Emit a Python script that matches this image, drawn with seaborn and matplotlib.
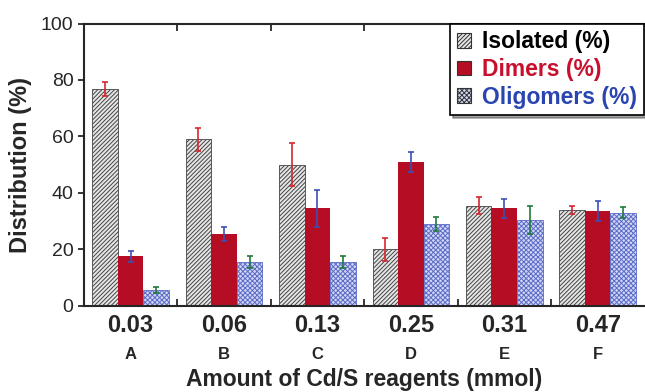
import pandas as pd
import numpy as np
import seaborn as sns
import matplotlib.pyplot as plt
import matplotlib.ticker as mticker
from matplotlib.patches import Patch

# Daten
amounts = ["0.03", "0.06", "0.13", "0.25", "0.31", "0.47"]
letters = ["A", "B", "C", "D", "E", "F"]
series = ["Isolated (%)", "Dimers (%)", "Oligomers (%)"]
isolated = [76.7, 59.0, 50.0, 20.0, 35.5, 34.0]
isolated_err = [2.5, 4.0, 7.5, 4.0, 3.0, 1.5]
dimers = [17.5, 25.5, 34.5, 51.0, 34.5, 33.5]
dimers_err = [2.0, 2.5, 6.5, 3.5, 3.5, 3.5]
oligomers = [5.5, 15.5, 15.5, 29.0, 30.5, 33.0]
oligomers_err = [1.0, 2.0, 2.0, 2.5, 5.0, 2.0]

df = pd.DataFrame({
    "amount": amounts * 3,
    "series": np.repeat(series, len(amounts)),
    "value": isolated + dimers + oligomers,
})
errs = [isolated_err, dimers_err, oligomers_err]

face = ["#e6e6e6", "#b50d24", "#d2d6f4"]
hatch = ["////////", None, "xxxxxxx"]
hatch_col = ["#444444", "#b50d24", "#5a6cc8"]
err_col = ["#d9252e", "#3b4fb5", "#1e7a3a"]
text_col = ["black", "#c8102e", "#2a45b0"]

sns.set_style("ticks")
plt.rcParams["font.family"] = ["Liberation Sans", "DejaVu Sans"]
plt.rcParams["hatch.linewidth"] = 0.7

fig, ax = plt.subplots(figsize=(6.45, 3.92), dpi=100)
fig.subplots_adjust(left=0.13, right=0.999, top=0.94, bottom=0.22)

sns.barplot(data=df, x="amount", y="value", hue="series", order=amounts,
            hue_order=series, errorbar=None, width=0.82, ax=ax, legend=False)

bar_conts = list(ax.containers)
for i, cont in enumerate(bar_conts):
    xs = []
    for bar in cont:
        bar.set_facecolor(face[i])
        bar.set_edgecolor(hatch_col[i] if hatch[i] else face[i])
        bar.set_linewidth(0.6 if hatch[i] else 0)
        if hatch[i]:
            bar.set_hatch(hatch[i])
        xs.append(bar.get_x() + bar.get_width() / 2)
    vals = [b.get_height() for b in cont]
    ax.errorbar(xs, vals, yerr=errs[i], fmt="none", ecolor=err_col[i],
                elinewidth=1.2, capsize=2.2, capthick=1.2, zorder=5)

ax.set_ylim(0, 100)
ax.set_xlim(-0.5, 5.5)
ax.set_yticks([0, 20, 40, 60, 80, 100])
ax.tick_params(axis="y", labelsize=14, direction="out", length=4, width=1.3)
ax.set_xticks(np.arange(len(amounts)))
ax.set_xticklabels(amounts, fontsize=17, fontweight="bold")
ax.tick_params(axis="x", length=0, pad=6)
ax.xaxis.set_minor_locator(mticker.FixedLocator(np.arange(0.5, 5.5, 1)))
ax.tick_params(axis="x", which="minor", direction="in", length=5, width=1.3,
               top=True, bottom=True)
for side in ["top", "bottom", "left"]:
    ax.spines[side].set_linewidth(1.5)
ax.spines["right"].set_visible(False)

for i, l in enumerate(letters):
    ax.text(i, -0.145, l, transform=ax.get_xaxis_transform(), ha="center",
            va="top", fontsize=12, fontweight="bold")

ax.set_ylabel("Distribution (%)", fontsize=17, fontweight="bold", labelpad=6)
ax.set_xlabel("Amount of Cd/S reagents (mmol)", fontsize=16.5, fontweight="bold",
              labelpad=22)

handles = [Patch(facecolor=face[i], edgecolor="#333333", hatch=hatch[i],
                 linewidth=0.8) for i in range(3)]
leg = ax.legend(handles, series, loc="upper right", frameon=True, fancybox=False,
                shadow=True, prop={"size": 16.5, "weight": "bold"},
                handlelength=0.6, handleheight=0.6, handletextpad=0.5,
                borderpad=0.3, labelspacing=0.2, borderaxespad=0.0)
leg.get_frame().set_edgecolor("black")
leg.get_frame().set_linewidth(1.2)
for t, c in zip(leg.get_texts(), text_col):
    t.set_color(c)

plt.savefig("out.png", dpi=100)
